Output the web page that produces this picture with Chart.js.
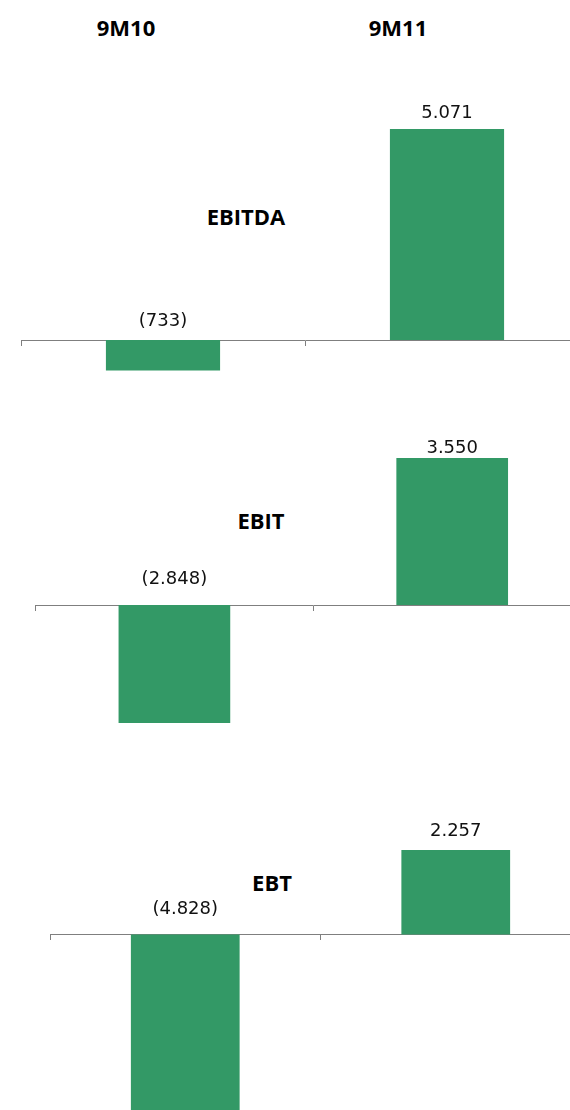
<!DOCTYPE html>
<html>
<head>
<meta charset="utf-8">
<script src="https://cdn.jsdelivr.net/npm/chart.js@4/dist/chart.umd.min.js"></script>
<style>
  html, body { margin: 0; padding: 0; background: #fff; }
  body { position: relative; width: 570px; height: 1110px; overflow: hidden; }
  canvas { position: absolute; left: 0; }
  .txt { position: absolute; font-family: "Open Sans", sans-serif; font-weight: 700; font-size: 22px;
         line-height: 22px; color: #000; white-space: nowrap; transform: translateX(-50%); }
</style>
</head>
<body>
<div class="txt" id="p0" style="left:126px;top:15.5px"></div>
<div class="txt" id="p1" style="left:398px;top:15.5px"></div>
<div class="txt" id="t0" style="left:246px;top:204.5px"></div>
<div class="txt" id="t1" style="left:261px;top:508.5px"></div>
<div class="txt" id="t2" style="left:272px;top:870.5px"></div>
<canvas id="c0"></canvas>
<canvas id="c1"></canvas>
<canvas id="c2"></canvas>
<script>
// Periods (columns) and the three profit measures (rows)
const periods = ['9M10', '9M11'];
const metrics = ['EBITDA', 'EBIT', 'EBT'];
const ebitda = [-733, 5071];
const ebit = [-2848, 3550];
const ebt = [-4828, 2257];
const seriesByMetric = [ebitda, ebit, ebt];

// Panel geometry: canvas top/height, zero line, pixels per unit, category band start and width
const panels = [
  { top: 60,  height: 330, axisY: 340,   k: 0.0416, left: 21,   band: 284,   gapPos: 11, gapNeg: 14 },
  { top: 400, height: 340, axisY: 605,   k: 0.0414, left: 35.5, band: 277.8, gapPos: 5,  gapNeg: 21 },
  { top: 760, height: 360, axisY: 934.5, k: 0.0374, left: 50,   band: 270.5, gapPos: 14, gapNeg: 21 }
];

const BAR = '#339966';
const AXIS = '#7f7f7f';

periods.forEach((p, i) => { document.getElementById('p' + i).textContent = p; });
metrics.forEach((m, i) => { document.getElementById('t' + i).textContent = m; });

function fmt(v) {
  const s = Math.abs(v).toString().replace(/\B(?=(\d{3})+(?!\d))/g, '.');
  return v < 0 ? '(' + s + ')' : s;
}

const valueLabels = {
  id: 'valueLabels',
  afterDatasetsDraw(chart, args, opts) {
    const ctx = chart.ctx;
    const meta = chart.getDatasetMeta(0);
    const data = chart.data.datasets[0].data;
    const zero = chart.scales.y.getPixelForValue(0);
    ctx.save();
    ctx.font = '18px "DejaVu Sans", sans-serif';
    ctx.fillStyle = '#111';
    ctx.textAlign = 'center';
    ctx.textBaseline = 'alphabetic';
    meta.data.forEach((bar, i) => {
      const v = data[i];
      const y = v >= 0 ? bar.y - opts.gapPos : zero - opts.gapNeg;
      ctx.fillText(fmt(v), bar.x, y);
    });
    ctx.restore();
  }
};

panels.forEach((pn, idx) => {
  const cv = document.getElementById('c' + idx);
  const width = Math.ceil(pn.left + 2 * pn.band);
  cv.width = width;
  cv.height = pn.height;
  cv.style.top = pn.top + 'px';
  cv.style.width = width + 'px';
  cv.style.height = pn.height + 'px';

  // the zero-positioned x axis takes no room, so the plot area spans the whole canvas height
  const areaTop = pn.top;
  const areaBottom = pn.top + pn.height;
  const yMax = (pn.axisY - areaTop) / pn.k;
  const yMin = -(areaBottom - pn.axisY) / pn.k;

  new Chart(cv, {
    type: 'bar',
    data: {
      labels: periods,
      datasets: [{
        data: seriesByMetric[idx],
        backgroundColor: BAR,
        borderWidth: 0,
        barPercentage: 0.402,
        categoryPercentage: 1
      }]
    },
    options: {
      responsive: false,
      animation: false,
      devicePixelRatio: 1,
      layout: { padding: { left: pn.left, right: width - pn.left - 2 * pn.band, top: 0, bottom: 0 } },
      plugins: {
        legend: { display: false },
        tooltip: { enabled: false },
        valueLabels: { gapPos: pn.gapPos, gapNeg: pn.gapNeg }
      },
      scales: {
        x: {
          type: 'category',
          position: { y: 0 },
          offset: true,
          grid: { display: true, offset: true, drawOnChartArea: false, drawTicks: true, tickLength: 5, color: AXIS, lineWidth: 1 },
          border: { display: true, color: AXIS, width: 1 },
          ticks: { display: false }
        },
        y: {
          display: false,
          min: yMin,
          max: yMax
        }
      }
    },
    plugins: [valueLabels]
  });
});
</script>
</body>
</html>
